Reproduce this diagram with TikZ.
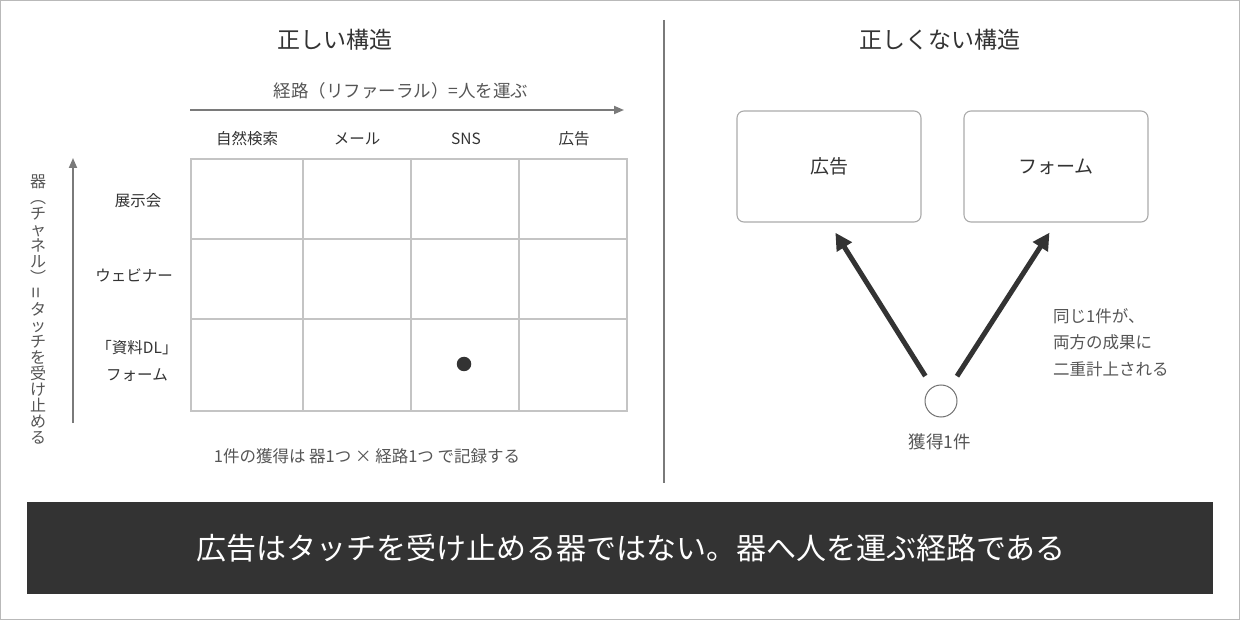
\documentclass[tikz,border=0pt]{standalone}
\usepackage{fontspec}
\setmainfont{Noto Sans CJK JP}
\usetikzlibrary{arrows.meta}
\definecolor{ink}{HTML}{333333}
\definecolor{mid}{HTML}{555555}
\definecolor{gridc}{HTML}{C4C4C4}
\definecolor{axisc}{HTML}{7A7A7A}
\definecolor{boxc}{HTML}{AAAAAA}
\definecolor{bannerc}{HTML}{333333}
\newcommand\vch[1]{\hbox to 16pt{\hss\raisebox{0pt}[13.6pt][2.4pt]{#1}\hss}}
\begin{document}
\begin{tikzpicture}[x=1pt,y=-1pt,
  title/.style={font=\fontsize{23}{28}\selectfont, text=ink, inner sep=0pt},
  hdr/.style={font=\fontsize{15.5}{19}\selectfont, text=ink, inner sep=0pt},
  rowlab/.style={font=\fontsize{15.5}{27}\selectfont, text=ink, inner sep=0pt, align=center},
  note/.style={font=\fontsize{16.5}{26.5}\selectfont, text=mid, inner sep=0pt},
  axis/.style={draw=axisc, line width=1.8pt, -{Triangle[length=10pt,width=8pt]}},
  gridline/.style={draw=gridc, line width=1.3pt},
  catbox/.style={draw=boxc, line width=1.1pt, rounded corners=7pt, minimum width=184pt, minimum height=111pt, font=\fontsize{19}{23}\selectfont, text=ink},
  bigarrow/.style={draw=ink, line width=5pt, -{Triangle[length=17pt,width=17pt]}},
]
\useasboundingbox (0,0) rectangle (1240,620);
\draw[gray!55, line width=1.2pt] (0.6,0.6) rectangle (1239.4,619.4);

% divider
\coordinate (divtop) at (664,20);
\coordinate (divbot) at (664,483);
\draw[axisc, line width=1.4pt] (divtop) -- (divbot);

% titles
\node[title] (t1) at (335,40) {正しい構造};
\node[title] (t2) at (940,40) {正しくない構造};

% horizontal axis
\node[font=\fontsize{17.5}{21}\selectfont, text=mid, inner sep=0pt] (hlab) at (401,91) {経路（リファーラル）=人を運ぶ};
\coordinate (hx0) at (190,110);
\coordinate (hx1) at (624,110);
\draw[axis] (hx0) -- (hx1);

% column headers
\node[hdr] (c1) at (247,139) {自然検索};
\node[hdr] (c2) at (357,139) {メール};
\node[hdr] (c3) at (466,139) {SNS};
\node[hdr] (c4) at (574,139) {広告};

% grid
\draw[gridline] (191,159) rectangle (627,411);
\draw[gridline] (303,159) -- (303,411);
\draw[gridline] (411,159) -- (411,411);
\draw[gridline] (519,159) -- (519,411);
\draw[gridline] (191,239) -- (627,239);
\draw[gridline] (191,319) -- (627,319);

% row labels
\node[rowlab] (r1) at (138,201) {展示会};
\node[rowlab] (r2) at (134,275) {ウェビナー};
\node[rowlab] (r3) at (137,361) {「資料DL」\\フォーム};

% vertical axis
\coordinate (vy0) at (73,423);
\coordinate (vy1) at (73,158);
\draw[axis] (vy0) -- (vy1);
\node[inner sep=0pt, text=mid, font=\fontsize{16}{16}\selectfont] (vlab) at (38,310)
 {\vbox{\offinterlineskip
   \vch{器}\vch{︵}\vch{チ}\vch{ャ}\vch{ネ}\vch{ル}\vch{︶}\vch{\raisebox{1pt}{\rotatebox{90}{\fontsize{20}{20}\selectfont =}}}%
   \vch{タ}\vch{ッ}\vch{チ}\vch{を}\vch{受}\vch{け}\vch{止}\vch{め}\vch{る}}};

% dot
\node[circle, fill=ink, minimum size=14.5pt, inner sep=0pt] (dot) at (464,364) {};

% caption
\node[note] (cap) at (367,456) {1件の獲得は 器1つ × 経路1つ で記録する};

% right side
\node[catbox] (ad) at (829,166.5) {広告};
\node[catbox] (form) at (1056,166.5) {フォーム};
\node[circle, draw=ink!70, line width=1pt, minimum size=32pt, inner sep=0pt] (acq) at (941,401) {};
\node[font=\fontsize{17.5}{21}\selectfont, text=mid, inner sep=0pt] (acqlab) at (940,442) {獲得1件};
\draw[bigarrow, shorten <=13pt, shorten >=12pt] (acq) -- (ad.south);
\draw[bigarrow, shorten <=13pt, shorten >=12pt] (acq) -- (form.south);
\node[note, align=left, anchor=north west] (dbl) at (1053,308) {同じ1件が、\\両方の成果に\\二重計上される};

% banner
\fill[bannerc] (27,502) rectangle (1213,594);
\node[font=\fontsize{30}{36}\selectfont, text=white, inner sep=0pt] (msg) at (631,548)
 {広告はタッチを受け止める器ではない。器へ人を運ぶ経路である};
\end{tikzpicture}
\end{document}
